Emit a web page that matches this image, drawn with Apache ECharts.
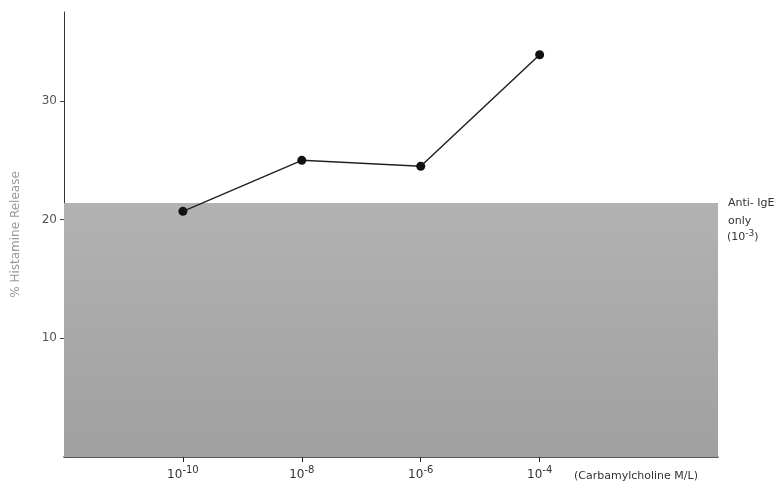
<!DOCTYPE html>
<html><head><meta charset="utf-8">
<script src="https://cdn.jsdelivr.net/npm/echarts@6/dist/echarts.min.js"></script>
<style>html,body{margin:0;padding:0;background:#fff}#c{width:784px;height:489px}</style>
</head><body><div id="c"></div>
<script>
const exponents = [-10, -8, -6, -4];
const release = [20.7, 25.0, 24.5, 33.9];
const yTicks = [10, 20, 30];
const antiIgEOnly = 21.4;
const xRange = [-12, -1];
const yRange = [0, 37.5];

const chart = echarts.init(document.getElementById('c'));
chart.setOption({
  animation: false,
  backgroundColor: '#ffffff',
  grid: { left: 64, right: 66, top: 12, bottom: 32 },
  xAxis: {
    type: 'value', min: xRange[0], max: xRange[1],
    splitLine: { show: false },
    axisLine: { lineStyle: { color: '#222', width: 1.5 } },
    axisTick: { customValues: exponents, length: 5, lineStyle: { color: '#222' } },
    axisLabel: {
      customValues: exponents, margin: 8,
      formatter: v => '{b|10}{s|' + v + '}',
      rich: {
        b: { fontFamily: 'DejaVu Sans', fontSize: 12, color: '#333' },
        s: { fontFamily: 'DejaVu Sans', fontSize: 10, color: '#333', padding: [0, 0, 9, 0] }
      }
    }
  },
  yAxis: {
    type: 'value', min: yRange[0], max: yRange[1],
    splitLine: { show: false },
    axisLine: { show: true, lineStyle: { color: '#333', width: 1 } },
    axisTick: { show: true, customValues: yTicks, length: 4, lineStyle: { color: '#444' } },
    axisLabel: { customValues: yTicks, fontFamily: 'DejaVu Sans', fontSize: 12, color: '#555', margin: 7 },
    name: '% Histamine Release', nameLocation: 'middle', nameGap: 42, nameRotate: 90,
    nameTextStyle: { fontFamily: 'DejaVu Sans', fontSize: 12, color: '#999' }
  },
  series: [{
    type: 'line',
    data: exponents.map((e, i) => [e, release[i]]),
    symbol: 'circle', symbolSize: 9,
    lineStyle: { color: '#222', width: 1.5 },
    itemStyle: { color: '#111' },
    markArea: {
      silent: true,
      itemStyle: {
        color: new echarts.graphic.LinearGradient(0, 0, 0, 1, [
          { offset: 0, color: '#b2b2b2' }, { offset: 1, color: '#a0a0a0' }
        ])
      },
      data: [[{ xAxis: xRange[0], yAxis: 0 }, { xAxis: xRange[1], yAxis: antiIgEOnly }]]
    },
    z: 3
  }],
  graphic: [
    { type: 'text', left: 574, top: 471, style: { text: '(Carbamylcholine M/L)', fontFamily: 'DejaVu Sans', fontSize: 11, fill: '#333' } },
    { type: 'text', left: 728, top: 198, style: { text: 'Anti- IgE', fontFamily: 'DejaVu Sans', fontSize: 11, fill: '#333' } },
    { type: 'text', left: 728, top: 216, style: { text: 'only', fontFamily: 'DejaVu Sans', fontSize: 11, fill: '#333' } },
    { type: 'text', left: 727, top: 229, style: { rich: { b: { fontFamily: 'DejaVu Sans', fontSize: 11, fill: '#333' }, s: { fontFamily: 'DejaVu Sans', fontSize: 9, fill: '#333', padding: [0, 0, 7, 0] } }, text: '{b|(10}{s|-3}{b|)}' } }
  ]
});
</script></body></html>
